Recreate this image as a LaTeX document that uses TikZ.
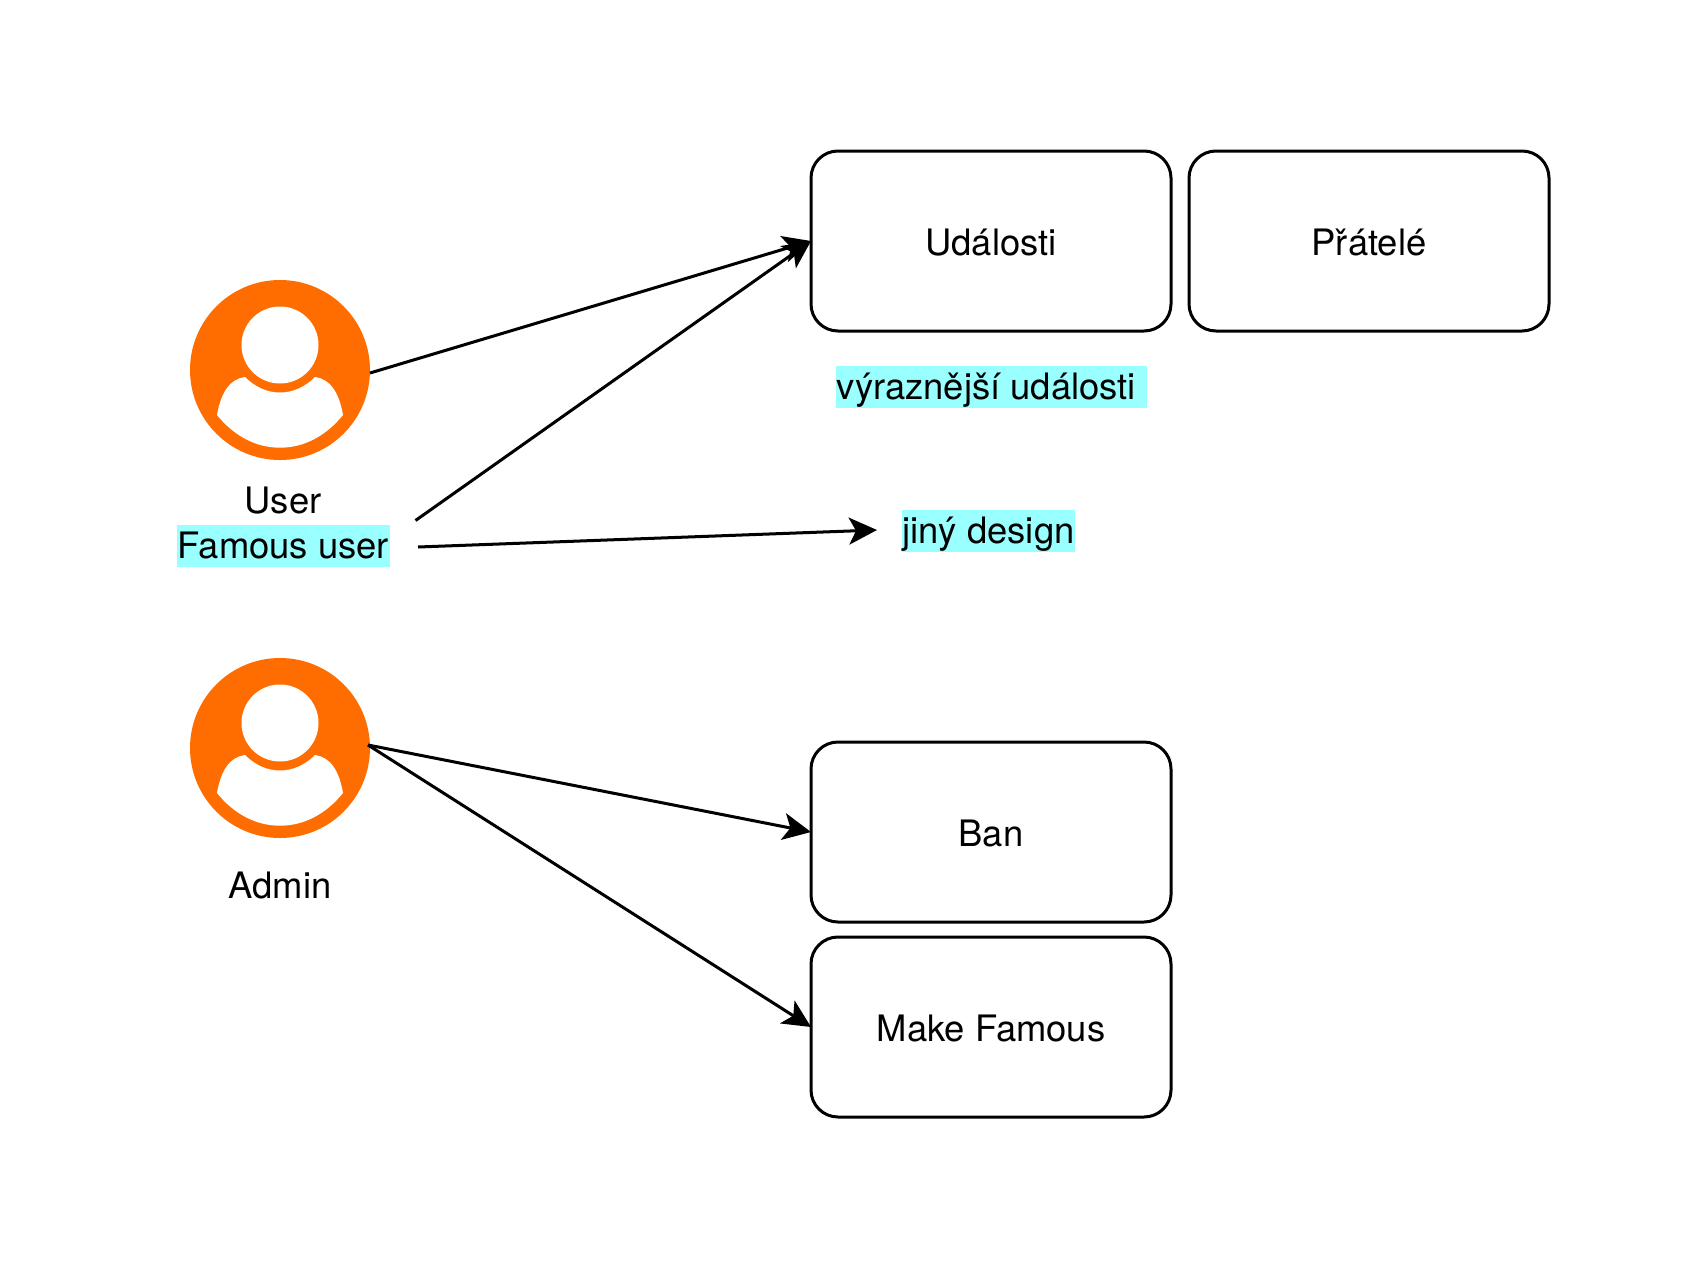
\documentclass[tikz,border=0pt]{standalone}
\usepackage{fontspec}
\setmainfont{TeX Gyre Heros}
\usetikzlibrary{positioning,arrows.meta}

\definecolor{mOrange}{HTML}{FF6D00}
\definecolor{mHigh}{HTML}{99FFFF}

\begin{document}
\begin{tikzpicture}[
  x=0.5pt, y=-0.5pt,
  >={Stealth[length=14pt,width=13.5pt,inset=3.5pt]},
  font=\fontsize{18.2}{21}\selectfont,
  every path/.style={line width=1.5pt},
  actionbox/.style={draw, rounded corners=13.5pt, minimum width=180pt, minimum height=90pt, outer sep=0pt, text height=16pt, text depth=2pt},
  highlight/.style={fill=mHigh, inner xsep=0.3pt, inner ysep=0pt, text height=16.5pt, text depth=4.5pt},
  usericon/.style={circle, fill=mOrange, minimum size=90pt, inner sep=0pt, outer sep=0pt,
    path picture={
      \begin{scope}[shift={(path picture bounding box.center)}]
        \fill[white] (0,-25) circle[radius=19.25pt];
        \fill[white] (-63,45) .. controls (-59,22) and (-50,9) .. (-35,7)
          .. controls (-25,17) and (-13,22.5) .. (0,22.5)
          .. controls (13,22.5) and (25,17) .. (35,7)
          .. controls (50,9) and (59,22) .. (63,45)
          .. controls (46,66) and (24,77.7) .. (0,77.7)
          .. controls (-24,77.7) and (-46,66) .. (-63,45) -- cycle;
      \end{scope}
    }}
]
  \useasboundingbox (0,0) rectangle (1701,1269);

  \node[usericon] (mUser) at (280,370) {};
  \node[usericon] (mAdmin) at (280,748) {};
  \node (mUserText) at (283,501) {User};
  \node[highlight] (mFamous) at (283.5,546) {Famous user};
  \node (mAdminText) at (280,885) {Admin};

  \node[actionbox] (mEvents) at (991,241) {Události};
  \node[actionbox] (mFriends) at (1369,241) {Přátelé};
  \node[actionbox] (mBan) at (991,832) {Ban};
  \node[actionbox] (mMake) at (991,1027) {Make Famous};

  \node[highlight] (mStrong) at (991.5,387) {výraznější události\ \mbox{}};
  \node[highlight] (mDesign) at (988.5,531) {jiný design};

  \coordinate (mFromA) at (415.5,520.5);
  \coordinate (mFromB) at (418,547);
  \coordinate (mToDesign) at (877,530);

  \draw[->] (mUser.east) ++(0,3) -- (mEvents.west);
  \draw[->] (mFromA) -- (mEvents.west);
  \draw[->] (mFromB) -- (mToDesign);
  \draw[->] (mAdmin.east) ++(-2,-3) -- (mBan.west);
  \draw[->] (mAdmin.east) ++(-2,-3) -- (mMake.west);
\end{tikzpicture}
\end{document}
